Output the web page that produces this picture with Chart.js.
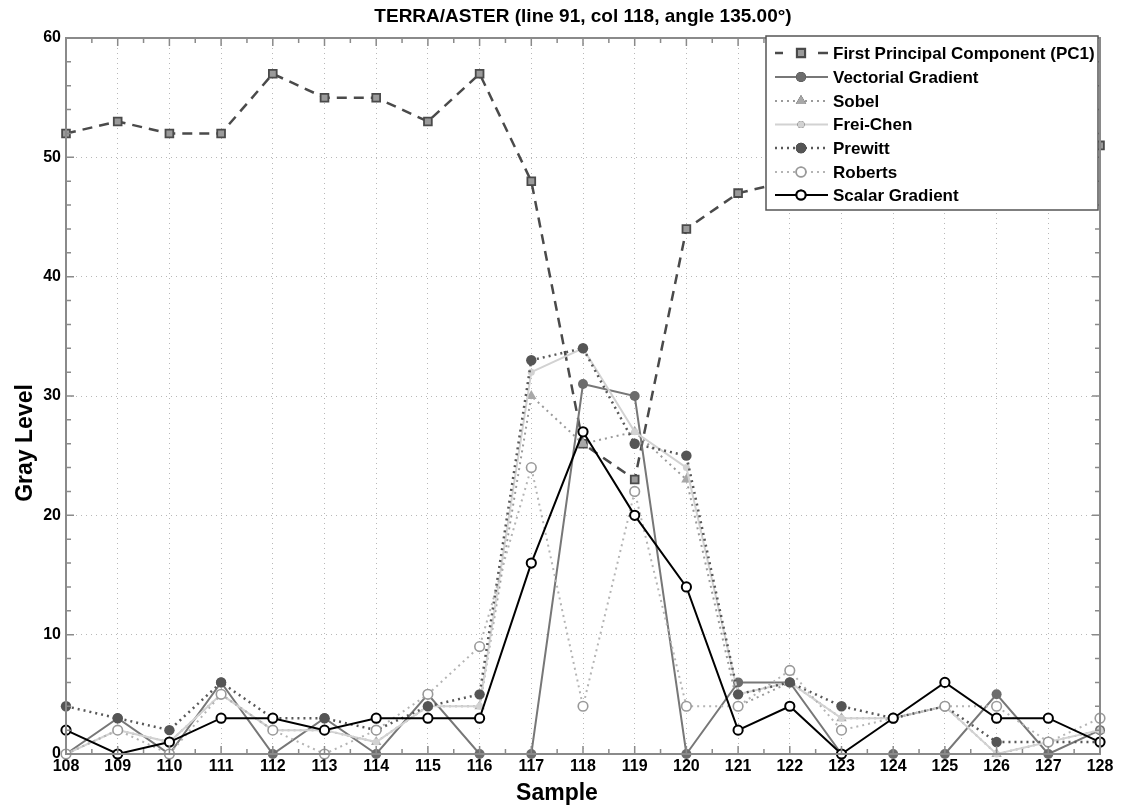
<!DOCTYPE html>
<html><head><meta charset="utf-8">
<script src="https://cdn.jsdelivr.net/npm/chart.js@4/dist/chart.umd.min.js"></script>
<style>html,body{margin:0;padding:0;background:#fff}#wrap{width:1121px;height:808px;position:relative}</style>
</head><body><div id="wrap"><canvas id="c"></canvas></div>
<script>
// ---- data ----
const samples = [108,109,110,111,112,113,114,115,116,117,118,119,120,121,122,123,124,125,126,127,128];
const pc1        = [52,53,52,52,57,55,55,53,57,48,26,23,44,47,48,49,50,50,51,51,51];
const vectorial  = [0,3,0,6,0,3,0,5,0,0,31,30,0,6,6,0,0,0,5,0,2];
const sobel      = [0,2,1,5,2,2,1,4,4,30,26,27,23,4,6,3,3,4,0,1,2];
const freiChen   = [0,2,1,5,2,2,1,4,4,32,34,27,24,5,6,3,3,4,0,1,2];
const prewitt    = [4,3,2,6,3,3,2,4,5,33,34,26,25,5,6,4,3,4,1,1,1];
const roberts    = [0,2,0,5,2,0,2,5,9,24,4,22,4,4,7,2,3,4,4,1,3];
const scalar     = [2,0,1,3,3,2,3,3,3,16,27,20,14,2,4,0,3,6,3,3,1];
const yTicks     = [0,10,20,30,40,50,60];
const seriesNames = ['First Principal Component (PC1)','Vectorial Gradient','Sobel','Frei-Chen','Prewitt','Roberts','Scalar Gradient'];
const chartTitle = 'TERRA/ASTER (line 91, col 118, angle 135.00\u00B0)';
const xTitle = 'Sample';
const yTitle = 'Gray Level';

const FONT = '"Liberation Sans", Arial, Helvetica, sans-serif';
const styles = [
  {color:'#4a4a4a', width:2.5, dash:[10,7], style:'rect', r:5.5, fill:'#9a9a9a', bw:1.8, order:6},
  {color:'#777', width:2, dash:[], style:'circle', r:5, fill:'#6c6c6c', bw:0, order:5},
  {color:'#9a9a9a', width:2, dash:[2,4], style:'triangle', r:6, fill:'#a8a8a8', bw:0, order:4},
  {color:'#d2d2d2', width:2, dash:[], style:'circle', r:3.5, fill:'#d2d2d2', bw:0, order:3},
  {color:'#585858', width:2.5, dash:[2,4], style:'circle', r:5.2, fill:'#555', bw:0, order:2},
  {color:'#b4b4b4', width:2, dash:[2,4], style:'circle', r:4.8, fill:'#fff', bw:1.6, bc:'#999', order:1},
  {color:'#000', width:2, dash:[], style:'circle', r:4.6, fill:'#fff', bw:2, bc:'#000', order:0}
];
const seriesValues = [pc1, vectorial, sobel, freiChen, prewitt, roberts, scalar];

const datasets = seriesValues.map((vals, i) => {
  const s = styles[i];
  return {
    label: seriesNames[i],
    data: samples.map((x, j) => ({x: x, y: vals[j]})),
    borderColor: s.color, borderWidth: s.width, borderDash: s.dash,
    pointStyle: s.style, pointRadius: s.r, pointBackgroundColor: s.fill,
    pointBorderColor: s.bc || s.color, pointBorderWidth: s.bw,
    pointHoverRadius: s.r, tension: 0, fill: false, clip: false, order: s.order
  };
});

const decor = {
  id: 'decor',
  afterDraw(chart) {
    const ctx = chart.ctx, a = chart.chartArea;
    const xs = chart.scales.x, ys = chart.scales.y;
    ctx.save();
    // ticks (inward, all four sides)
    ctx.strokeStyle = '#8a8a8a'; ctx.lineWidth = 1.5; ctx.setLineDash([]);
    ctx.beginPath();
    for (let v = samples[0]; v <= samples[samples.length-1] + 1e-9; v += 0.5) {
      const px = xs.getPixelForValue(v);
      const L = (Math.abs(v - Math.round(v)) < 1e-6) ? 8 : 5;
      ctx.moveTo(px, a.bottom); ctx.lineTo(px, a.bottom - L);
      ctx.moveTo(px, a.top); ctx.lineTo(px, a.top + L);
    }
    for (let v = 0; v <= 60; v += 2) {
      const py = ys.getPixelForValue(v);
      const L = (v % 10 === 0) ? 8 : 5;
      ctx.moveTo(a.left, py); ctx.lineTo(a.left + L, py);
      ctx.moveTo(a.right, py); ctx.lineTo(a.right - L, py);
    }
    ctx.stroke();
    // frame
    ctx.lineWidth = 2; ctx.strokeStyle = '#8a8a8a';
    ctx.strokeRect(a.left, a.top, a.right - a.left, a.bottom - a.top);
    // title
    ctx.fillStyle = '#000';
    ctx.textAlign = 'center'; ctx.textBaseline = 'middle';
    ctx.font = 'bold 19px ' + FONT;
    ctx.fillText(chartTitle, (a.left + a.right) / 2, 17);
    ctx.font = 'bold 23px ' + FONT;
    ctx.fillText(xTitle, 557, 794);
    ctx.save();
    ctx.translate(26, 443);
    ctx.rotate(-Math.PI / 2);
    ctx.fillText(yTitle, 0, 0);
    ctx.restore();
    // legend
    const lx = 766, ly = 36, lw = 332, lh = 174;
    ctx.fillStyle = '#fff';
    ctx.fillRect(lx, ly, lw, lh);
    ctx.strokeStyle = '#555'; ctx.lineWidth = 1.5;
    ctx.strokeRect(lx, ly, lw, lh);
    const rows = [53, 77, 101, 124.5, 148, 172, 195];
    for (let i = 0; i < seriesNames.length; i++) {
      const s = styles[i], y = rows[i];
      ctx.strokeStyle = s.color; ctx.lineWidth = s.width;
      ctx.beginPath();
      if (i === 0) {
        ctx.setLineDash([]);
        ctx.moveTo(775, y); ctx.lineTo(783, y);
        ctx.moveTo(818, y); ctx.lineTo(828, y);
      } else {
        ctx.setLineDash(s.dash);
        ctx.moveTo(775, y); ctx.lineTo(828, y);
      }
      ctx.stroke();
      ctx.setLineDash([]);
      Chart.helpers.drawPoint(ctx, {
        pointStyle: s.style, radius: s.r, borderWidth: s.bw, rotation: 0
      }, 801, y);
      ctx.fillStyle = s.fill; ctx.fill();
      if (s.bw > 0) { ctx.strokeStyle = s.bc || s.color; ctx.lineWidth = s.bw; ctx.stroke(); }
      ctx.fillStyle = '#000';
      ctx.textAlign = 'left'; ctx.textBaseline = 'middle';
      ctx.font = 'bold 17px ' + FONT;
      ctx.fillText(seriesNames[i], 833, y + 1);
    }
    ctx.restore();
  }
};

new Chart(document.getElementById('c'), {
  type: 'line',
  data: { datasets: datasets },
  options: {
    responsive: true, maintainAspectRatio: false, animation: false,
    layout: { padding: { top: 38, right: 21, left: 0, bottom: 0 } },
    plugins: { legend: { display: false }, title: { display: false }, tooltip: { enabled: false } },
    scales: {
      x: {
        type: 'linear', min: samples[0], max: samples[samples.length-1],
        afterFit: (s) => { s.height = 54; },
        afterBuildTicks: (s) => { s.ticks = samples.map(v => ({value: v})); },
        ticks: { color: '#000', font: { family: FONT, size: 16, weight: 'bold' }, padding: 3, maxRotation: 0, autoSkip: false },
        grid: { color: '#b8b8b8', lineWidth: 1, drawTicks: false },
        border: { display: false, dash: [1, 4] }
      },
      y: {
        min: 0, max: 60,
        afterFit: (s) => { s.width = 66; },
        afterBuildTicks: (s) => { s.ticks = yTicks.map(v => ({value: v})); },
        ticks: { color: '#000', font: { family: FONT, size: 16, weight: 'bold' }, padding: 5 },
        grid: { color: '#b8b8b8', lineWidth: 1, drawTicks: false },
        border: { display: false, dash: [1, 4] }
      }
    }
  },
  plugins: [decor]
});
</script></body></html>
